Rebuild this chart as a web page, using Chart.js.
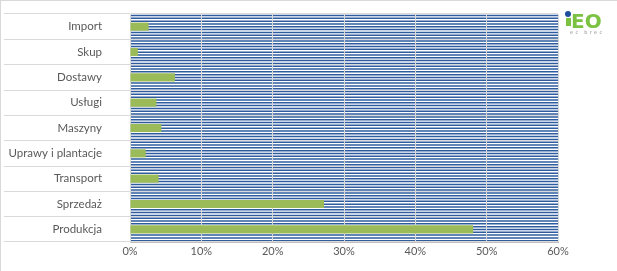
<!DOCTYPE html>
<html>
<head>
<meta charset="utf-8">
<script src="https://cdn.jsdelivr.net/npm/chart.js@4/dist/chart.umd.min.js"></script>
<style>
  html, body { margin: 0; padding: 0; background: #ffffff; }
  #wrap { position: relative; width: 617px; height: 271px; overflow: hidden; }
  #frame { position: absolute; left: 0; top: 0; width: 617px; height: 271px; box-sizing: border-box;
           border-top: 1px solid #d9d9d9; border-left: 1px solid #d9d9d9; pointer-events: none; }
  #logo { position: absolute; left: 564px; top: 7px; width: 52px; height: 32px; font-family: "DejaVu Sans", sans-serif; }
  #logo .main { position: absolute; left: 7px; top: 3px; font-size: 20px; font-weight: 900; color: #7cc242; line-height: 22px; letter-spacing: 0px; }
  #logo .stem { position: absolute; left: 1.5px; top: 11px; width: 5px; height: 8px; background: #7cc242; }
  #logo .dot { position: absolute; left: 1px; top: 4px; width: 6px; height: 6px; border-radius: 50%; background: #1d4f9c; }
  #logo .sub { position: absolute; left: 6px; top: 22px; font-size: 5px; color: #8a8a8a; letter-spacing: 2.3px; font-family: "DejaVu Sans", sans-serif; }
</style>
</head>
<body>
<div id="wrap">
  <canvas id="c" width="617" height="271"></canvas>
  <div id="frame"></div>
  <div id="logo"><span class="stem"></span><span class="main">EO</span><span class="dot"></span><span class="sub">ec brec</span></div>
</div>
<script>
const categories = ["Import", "Skup", "Dostawy", "Usługi", "Maszyny", "Uprawy i plantacje", "Transport", "Sprzedaż", "Produkcja"];
const shares = [0.026, 0.011, 0.063, 0.037, 0.044, 0.022, 0.040, 0.272, 0.481];
const tickValues = [0, 0.1, 0.2, 0.3, 0.4, 0.5, 0.6];
const tickLabels = ["0%", "10%", "20%", "30%", "40%", "50%", "60%"];

const stripes = {
  id: 'stripes',
  beforeDraw(chart) {
    const a = chart.chartArea;
    const ctx = chart.ctx;
    const band = (a.bottom - a.top) / categories.length;
    const step = band / 9;
    ctx.save();
    ctx.strokeStyle = '#2e5c9f';
    ctx.lineWidth = 1.5;
    for (let y = a.top + step * 0.55; y < a.bottom; y += step) {
      ctx.beginPath();
      ctx.moveTo(a.left, y);
      ctx.lineTo(a.right, y);
      ctx.stroke();
    }
    ctx.restore();
  }
};

new Chart(document.getElementById('c'), {
  type: 'bar',
  data: {
    labels: categories,
    datasets: [{
      data: shares,
      backgroundColor: '#9bbb59',
      borderWidth: 0,
      barPercentage: 0.34,
      categoryPercentage: 0.95
    }]
  },
  plugins: [stripes],
  options: {
    indexAxis: 'y',
    responsive: false,
    animation: false,
    layout: { padding: { top: 14, right: 59, bottom: 0, left: 0 } },
    plugins: { legend: { display: false }, tooltip: { enabled: false } },
    scales: {
      x: {
        min: 0, max: 0.6,
        afterBuildTicks(scale) { scale.ticks = tickValues.map(v => ({ value: v })); },
        afterFit(scale) { scale.height = 29; },
        grid: { color: '#d9d9d9', lineWidth: 1, drawTicks: false },
        border: { display: true, color: '#bfbfbf' },
        ticks: {
          padding: 3,
          color: '#595959',
          font: { family: 'Lato', size: 11 },
          callback: (v, i) => tickLabels[i]
        }
      },
      y: {
        afterFit(scale) { scale.width = 130; },
        grid: { color: '#d9d9d9', lineWidth: 1, offset: true, drawTicks: true, tickLength: 126 },
        border: { display: true, color: '#d9d9d9' },
        ticks: {
          padding: -98,
          color: '#595959',
          font: { family: 'Lato', size: 11.5 }
        }
      }
    }
  }
});
</script>
</body>
</html>
